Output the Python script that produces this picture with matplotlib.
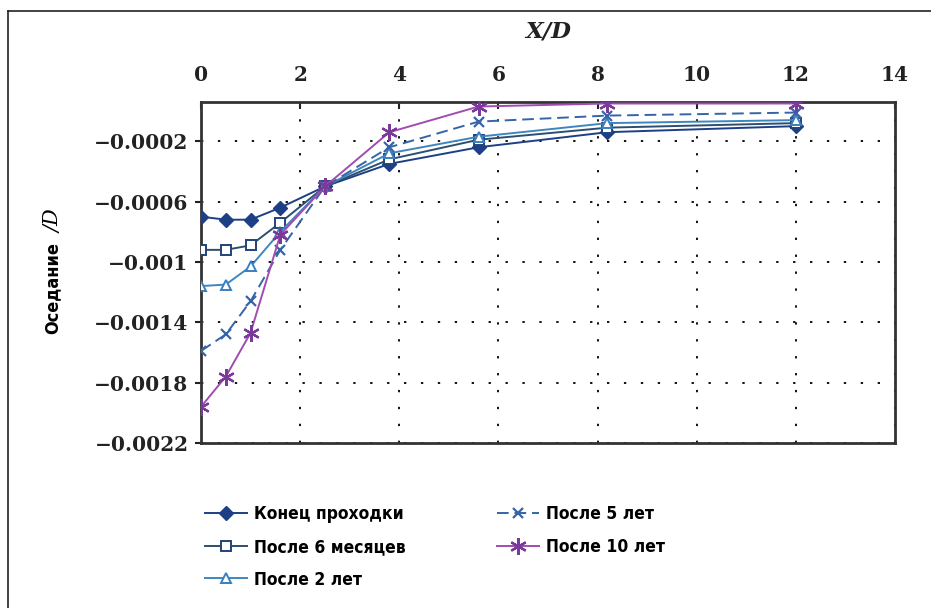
import matplotlib.pyplot as plt
from matplotlib.lines import Line2D
from matplotlib import font_manager as fm

# X/D positions of the measurement points
x_d = [0, 0.5, 1, 1.6, 2.5, 3.8, 5.6, 8.2, 12]

# settlement / D for each stage
end_of_drive = [-0.00070, -0.00072, -0.00072, -0.00064, -0.00050, -0.00035, -0.00024, -0.00014, -0.00010]
after_6_months = [-0.00092, -0.00092, -0.00089, -0.00074, -0.00050, -0.00032, -0.00019, -0.00011, -0.00008]
after_2_years = [-0.00116, -0.00115, -0.00103, -0.00080, -0.00050, -0.00028, -0.00017, -0.00008, -0.00006]
after_5_years = [-0.00159, -0.00148, -0.00126, -0.00092, -0.00050, -0.00024, -0.00007, -0.00003, -0.00001]
after_10_years = [-0.00196, -0.00176, -0.00147, -0.00082, -0.00050, -0.00014, 0.00003, 0.00005, 0.00005]

labels = ['Конец проходки', 'После 6 месяцев', 'После 2 лет', 'После 5 лет', 'После 10 лет']
x_ticks = [0, 2, 4, 6, 8, 10, 12, 14]
y_ticks = [-0.0002, -0.0006, -0.001, -0.0014, -0.0018, -0.0022]
y_tick_labels = ['−0.0002', '−0.0006', '−0.001', '−0.0014', '−0.0018', '−0.0022']


def narrow_font(size):
    # look for a condensed / narrow bold sans face, fall back to DejaVu Sans bold
    for f in fm.fontManager.ttflist:
        nm = f.name + ' ' + f.fname
        if ('Narrow' in nm or 'ondensed' in nm or f.stretch in ('condensed', 'semi-condensed')) \
                and f.weight in ('bold', 700, 'heavy', 800):
            return fm.FontProperties(fname=f.fname, size=size)
    return fm.FontProperties(family='DejaVu Sans', weight='bold', size=size * 0.85)


SERIF = ['DejaVu Serif']

fig = plt.figure(figsize=(9.31, 6.08), dpi=100)
ax = fig.add_axes([201 / 931, 1 - 443 / 608, 694 / 931, 341 / 608])

styles = [
    dict(color='#1d3f86', marker='D', ms=7, mfc='#1d3f86', mec='#1d3f86', ls='-'),
    dict(color='#2c4f70', marker='s', ms=7, mfc='white', mec='#23437a', mew=1.4, ls='-'),
    dict(color='#3f86bf', marker='^', ms=7, mfc='white', mec='#3a7fc0', mew=1.4, ls='-'),
    dict(color='#3565a8', marker='x', ms=7, mew=1.6, ls=(0, (6, 3))),
    dict(color='#a04cb0', marker=(6, 2, 0), ms=12, mew=1.6, mec='#7a3a9a', ls='-'),
]
series = [end_of_drive, after_6_months, after_2_years, after_5_years, after_10_years]

handles = []
for vals, lab, st in zip(series, labels, styles):
    h, = ax.plot(x_d, vals, lw=1.4, label=lab, zorder=3, **st)
    handles.append(h)

ax.set_xlim(0, 14)
ax.set_ylim(-0.0022, 0.00006)
ax.xaxis.tick_top()
ax.set_xticks(x_ticks)
ax.set_xticklabels([str(t) for t in x_ticks], family=SERIF, fontweight='bold', fontsize=14.5)
ax.set_yticks(y_ticks)
ax.set_yticklabels(y_tick_labels, family=SERIF, fontweight='bold', fontsize=14.5)
ax.tick_params(axis='x', direction='in', length=5, width=1.5, pad=12, colors='#222222')
ax.tick_params(axis='y', direction='out', length=4, width=1.5, pad=5, colors='#222222')

ax.grid(True, color='#111111', ls=(0, (1.2, 7.5)), lw=1.4)
for sp in ax.spines.values():
    sp.set_color('#333333')
    sp.set_linewidth(2)

fig.text(548 / 931, 1 - 31 / 608, 'X/D', family=SERIF, fontweight='bold', style='italic',
         fontsize=16.5, ha='center', va='center', color='#222222')
fig.text(52 / 931, 1 - 288 / 608, 'Оседание', fontproperties=narrow_font(13),
         rotation=90, ha='center', va='center')
fig.text(54 / 931, 1 - 221 / 608, '/D', family=SERIF, style='italic',
         fontsize=15, rotation=90, ha='center', va='center')

leg_font = narrow_font(12.5)
leg_kw = dict(loc='upper left', frameon=False, prop=leg_font, handlelength=2.4,
              handletextpad=0.4, labelspacing=0.85, borderaxespad=0, borderpad=0)
fig.legend(handles=handles[:3], bbox_to_anchor=(205 / 931, 1 - 505 / 608), **leg_kw)
fig.legend(handles=handles[3:], bbox_to_anchor=(497 / 931, 1 - 505 / 608), **leg_kw)

# outer frame (left and top edges visible)
fig.add_artist(Line2D([8 / 931, 8 / 931], [0, 1 - 11 / 608], color='#222222', lw=1.2))
fig.add_artist(Line2D([8 / 931, 1], [1 - 11 / 608, 1 - 11 / 608], color='#222222', lw=1.2))

fig.savefig('out.png', dpi=100, facecolor='white')
